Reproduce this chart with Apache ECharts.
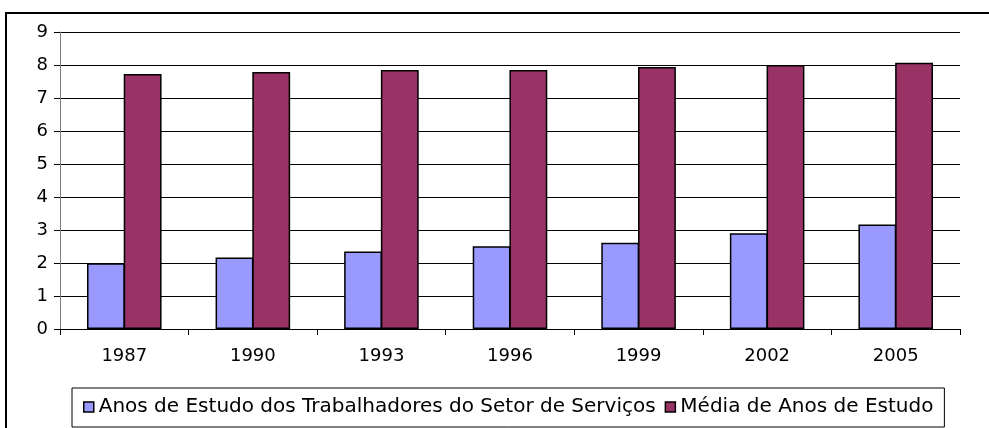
<!DOCTYPE html>
<html>
<head>
<meta charset="utf-8">
<script src="https://cdn.jsdelivr.net/npm/echarts@6/dist/echarts.min.js"></script>
<style>
html,body{margin:0;padding:0;background:#fff;}
#c{width:989px;height:428px;}
</style>
</head>
<body>
<div id="c"></div>
<script>
var categories = ['1987','1990','1993','1996','1999','2002','2005'];
var seriesNames = ['Anos de Estudo dos Trabalhadores do Setor de Serviços', 'Média de Anos de Estudo'];
var anosServicos = [1.99, 2.17, 2.35, 2.51, 2.61, 2.90, 3.17];
var mediaAnos = [7.73, 7.79, 7.85, 7.85, 7.94, 8.00, 8.07];
var yTicks = [0,1,2,3,4,5,6,7,8,9];

var chart = echarts.init(document.getElementById('c'), null, {renderer:'canvas'});
var font = 'DejaVu Sans';
chart.setOption({
  animation:false,
  backgroundColor:'#fff',
  textStyle:{fontFamily:font, color:'#000'},
  graphic:[{
    type:'rect', z:-1,
    shape:{x:6, y:13, width:1000, height:440},
    style:{fill:'none', stroke:'#000', lineWidth:2}
  }],
  grid:{left:60, right:29, top:32, bottom:99, containLabel:false},
  legend:{
    left:72, top:388,
    padding:[9,11,10,11],
    itemGap:9,
    itemWidth:10, itemHeight:10,
    borderColor:'#000', borderWidth:1,
    textStyle:{fontFamily:font, fontSize:20, color:'#000'},
    data:[
      {name:seriesNames[0], icon:'rect', itemStyle:{color:'#9999FF', borderColor:'#000', borderWidth:1.5}},
      {name:seriesNames[1], icon:'rect', itemStyle:{color:'#993366', borderColor:'#000', borderWidth:1.5}}
    ]
  },
  xAxis:{
    type:'category', data:categories,
    axisLine:{lineStyle:{color:'#000', width:1}},
    axisTick:{show:true, length:6, alignWithLabel:false, lineStyle:{color:'#000'}},
    axisLabel:{fontFamily:font, fontSize:18, color:'#000', margin:18},
    splitLine:{show:false}
  },
  yAxis:{
    type:'value', min:yTicks[0], max:yTicks[yTicks.length-1], interval:1,
    axisLine:{show:true, lineStyle:{color:'#808080', width:1}},
    axisTick:{show:true, length:6, lineStyle:{color:'#000'}},
    axisLabel:{fontFamily:font, fontSize:18, color:'#000', margin:12},
    splitLine:{show:true, lineStyle:{color:'#000', width:1}}
  },
  series:[
    {name:seriesNames[0], type:'bar', data:anosServicos, barGap:'-3%', barCategoryGap:'42%',
     itemStyle:{color:'#9999FF', borderColor:'#000', borderWidth:1.5}},
    {name:seriesNames[1], type:'bar', data:mediaAnos, barGap:'-3%', barCategoryGap:'42%',
     itemStyle:{color:'#993366', borderColor:'#000', borderWidth:1.5}}
  ]
});
</script>
</body>
</html>
